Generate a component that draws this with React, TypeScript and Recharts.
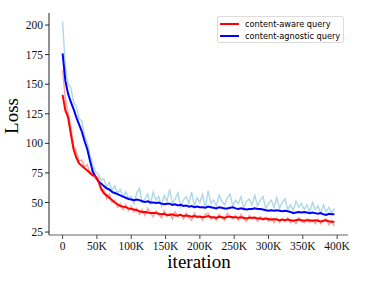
import React from "react";
import { LineChart, Line, XAxis, YAxis } from "recharts";

const iterations = [
  0, 4, 8, 12, 16, 20, 24, 28, 32, 36, 40, 44, 48, 52, 56, 60, 64, 68, 72, 76,
  80, 84, 88, 92, 96, 100, 104, 108, 112, 116, 120, 124, 128, 132, 136, 140, 144, 148, 152, 156,
  160, 164, 168, 172, 176, 180, 184, 188, 192, 196, 200, 204, 208, 212, 216, 220, 224, 228, 232, 236,
  240, 244, 248, 252, 256, 260, 264, 268, 272, 276, 280, 284, 288, 292, 296, 300, 304, 308, 312, 316,
  320, 324, 328, 332, 336, 340, 344, 348, 352, 356, 360, 364, 368, 372, 376, 380, 384, 388, 392, 396,
];

const agnosticSmooth = [
  176, 153, 142, 135, 129, 122, 116, 110, 102, 95, 85, 76, 72, 68, 66, 64, 62, 61, 59, 58,
  57, 56, 55, 54, 53, 52.5, 52, 52.5, 52, 51, 50.5, 51, 50, 50, 49.5, 50, 49, 48.5, 49, 49,
  48, 48.5, 47.5, 48, 47, 47.5, 46.5, 47, 46, 46.5, 46, 46, 45.5, 46.5, 46, 45.5, 45, 46, 45.5, 45,
  45, 45.5, 46, 45, 44.5, 45, 44.5, 44, 44.5, 44.5, 45, 44.5, 44.5, 44, 43.5, 43, 43.5, 43, 43.5, 43,
  42.5, 43, 42.5, 42, 41, 41.5, 42, 41.5, 42, 41.5, 41, 41.5, 41, 40.5, 41, 40, 39.5, 40.5, 40, 40,
];

const awareSmooth = [
  141, 128, 122, 108, 95, 88, 83, 81, 79, 77, 75, 73, 72, 68, 62, 58, 56, 54, 52, 50,
  48.5, 47, 46.5, 46, 45, 44.5, 44, 43.5, 42.5, 42, 42, 41.5, 41, 41, 41, 40.5, 40, 40.5, 39.5, 39.5,
  40, 39, 39, 39.5, 38.5, 39, 38.5, 38, 38.5, 38, 38, 37.5, 38, 38.5, 37.5, 37.5, 37, 38, 37.5, 37,
  38, 38, 37.5, 37.5, 37, 37.5, 37, 36.5, 37, 37, 37, 36.5, 36.5, 36, 36.5, 36, 35.5, 36, 35.5, 35,
  35.5, 35, 35.5, 35, 34.5, 35, 35.5, 35, 34.5, 35, 35, 34.5, 35, 34.5, 34, 34.5, 35, 34, 34, 33.5,
];

const agnosticRaw = [
  203, 165, 150, 147, 135, 131, 121, 119, 106, 101, 90, 82, 76, 74, 69, 70, 63, 67, 60, 64,
  58, 61, 55, 59, 54, 55, 49, 58, 62, 50, 53, 57, 48, 59, 52, 55, 47, 56, 51, 61,
  49, 53, 58, 46, 52, 55, 49, 59, 47, 54, 50, 57, 45, 60, 49, 52, 47, 56, 51, 48,
  54, 57, 47, 52, 49, 55, 45, 51, 53, 48, 56, 47, 52, 55, 45, 49, 52, 46, 54, 45,
  50, 53, 44, 48, 43, 51, 46, 49, 44, 48, 42, 50, 44, 47, 41, 48, 42, 46, 41, 45,
];

const awareRaw = [
  162, 138, 126, 114, 98, 93, 85, 86, 80, 82, 74, 78, 70, 71, 60, 61, 53, 57, 50, 52,
  46, 49, 44, 48, 43, 47, 42, 45, 40, 44, 39, 45, 41, 38, 43, 40, 37, 43, 38, 41,
  36, 42, 38, 40, 36, 41, 37, 35, 41, 37, 39, 35, 40, 41, 36, 38, 35, 40, 37, 35,
  41, 38, 36, 39, 35, 40, 36, 34, 39, 36, 38, 34, 38, 35, 37, 34, 37, 33, 37, 33,
  36, 34, 37, 33, 35, 32, 37, 34, 33, 36, 33, 35, 32, 36, 32, 35, 36, 31, 34, 30,
];

const xTicks = [0, 50, 100, 150, 200, 250, 300, 350, 400];
const yTicks = [25, 50, 75, 100, 125, 150, 175, 200];
const legendLabels = ["content-aware query", "content-agnostic query"];
const legendColors = ["#ff0000", "#0000ff"];

const data = iterations.map((it, i) => ({
  it,
  awareSmooth: awareSmooth[i],
  agnosticSmooth: agnosticSmooth[i],
  awareRaw: awareRaw[i],
  agnosticRaw: agnosticRaw[i],
}));

const serif = "'Liberation Serif', 'DejaVu Serif', serif";

const LegendBox = () => (
  <div
    style={{
      position: "absolute",
      left: 217,
      top: 16,
      width: 127,
      height: 27,
      border: "1px solid #dcdcdc",
      borderRadius: 2,
      background: "#fff",
      fontFamily: "'DejaVu Sans', sans-serif",
      fontSize: 8.2,
      color: "#000",
      boxSizing: "border-box",
      padding: "1px 0 0 2px",
      whiteSpace: "nowrap",
    }}
  >
    {legendLabels.map((l, i) => (
      <div key={l} style={{ display: "flex", alignItems: "center", height: 12 }}>
        <span
          style={{
            display: "inline-block",
            width: 19,
            height: 2,
            background: legendColors[i],
            marginRight: 6,
          }}
        />
        <span>{l}</span>
      </div>
    ))}
  </div>
);

export default function App() {
  return (
    <div style={{ position: "absolute", left: 0, top: 0, width: 381, height: 281, background: "#fff" }}>
      <LineChart
        width={381}
        height={281}
        data={data}
        margin={{ top: 13, right: 33, bottom: 16, left: 0 }}
      >
        <XAxis
          dataKey="it"
          type="number"
          domain={[-19.8, 415.8]}
          ticks={xTicks}
          allowDataOverflow
          height={30}
          tickFormatter={(v) => (v === 0 ? "0" : `${v}K`)}
          tick={{ fontFamily: serif, fontSize: 11.5, fill: "#111" }}
          tickSize={4}
          tickMargin={3}
          stroke="#999"
          strokeWidth={1.5}
          tickLine={{ stroke: "#444", strokeWidth: 1 }}
          label={{
            content: () => (
              <text x={199} y={268} textAnchor="middle" fontFamily={serif} fontSize={19} fill="#000">
                iteration
              </text>
            ),
          }}
        />
        <YAxis
          type="number"
          domain={[22.5, 210.2]}
          allowDataOverflow
          ticks={yTicks}
          width={49}
          tick={{ fontFamily: serif, fontSize: 11.5, fill: "#111" }}
          tickSize={4}
          tickMargin={2}
          stroke="#222"
          strokeWidth={1}
          label={{
            content: () => (
              <text
                x={18}
                y={116}
                textAnchor="middle"
                transform="rotate(-90 18 116)"
                fontFamily={serif}
                fontSize={19}
                fill="#000"
              >
                Loss
              </text>
            ),
          }}
        />
        <Line
          dataKey="agnosticRaw"
          stroke="#add8e6"
          strokeWidth={1.4}
          dot={false}
          isAnimationActive={false}
        />
        <Line
          dataKey="awareRaw"
          stroke="#f5a3a3"
          strokeWidth={1.4}
          dot={false}
          isAnimationActive={false}
        />
        <Line
          dataKey="agnosticSmooth"
          stroke="#0000ff"
          strokeWidth={2}
          dot={false}
          isAnimationActive={false}
        />
        <Line
          dataKey="awareSmooth"
          stroke="#ff0000"
          strokeWidth={2}
          dot={false}
          isAnimationActive={false}
        />
      </LineChart>
      <LegendBox />
    </div>
  );
}
